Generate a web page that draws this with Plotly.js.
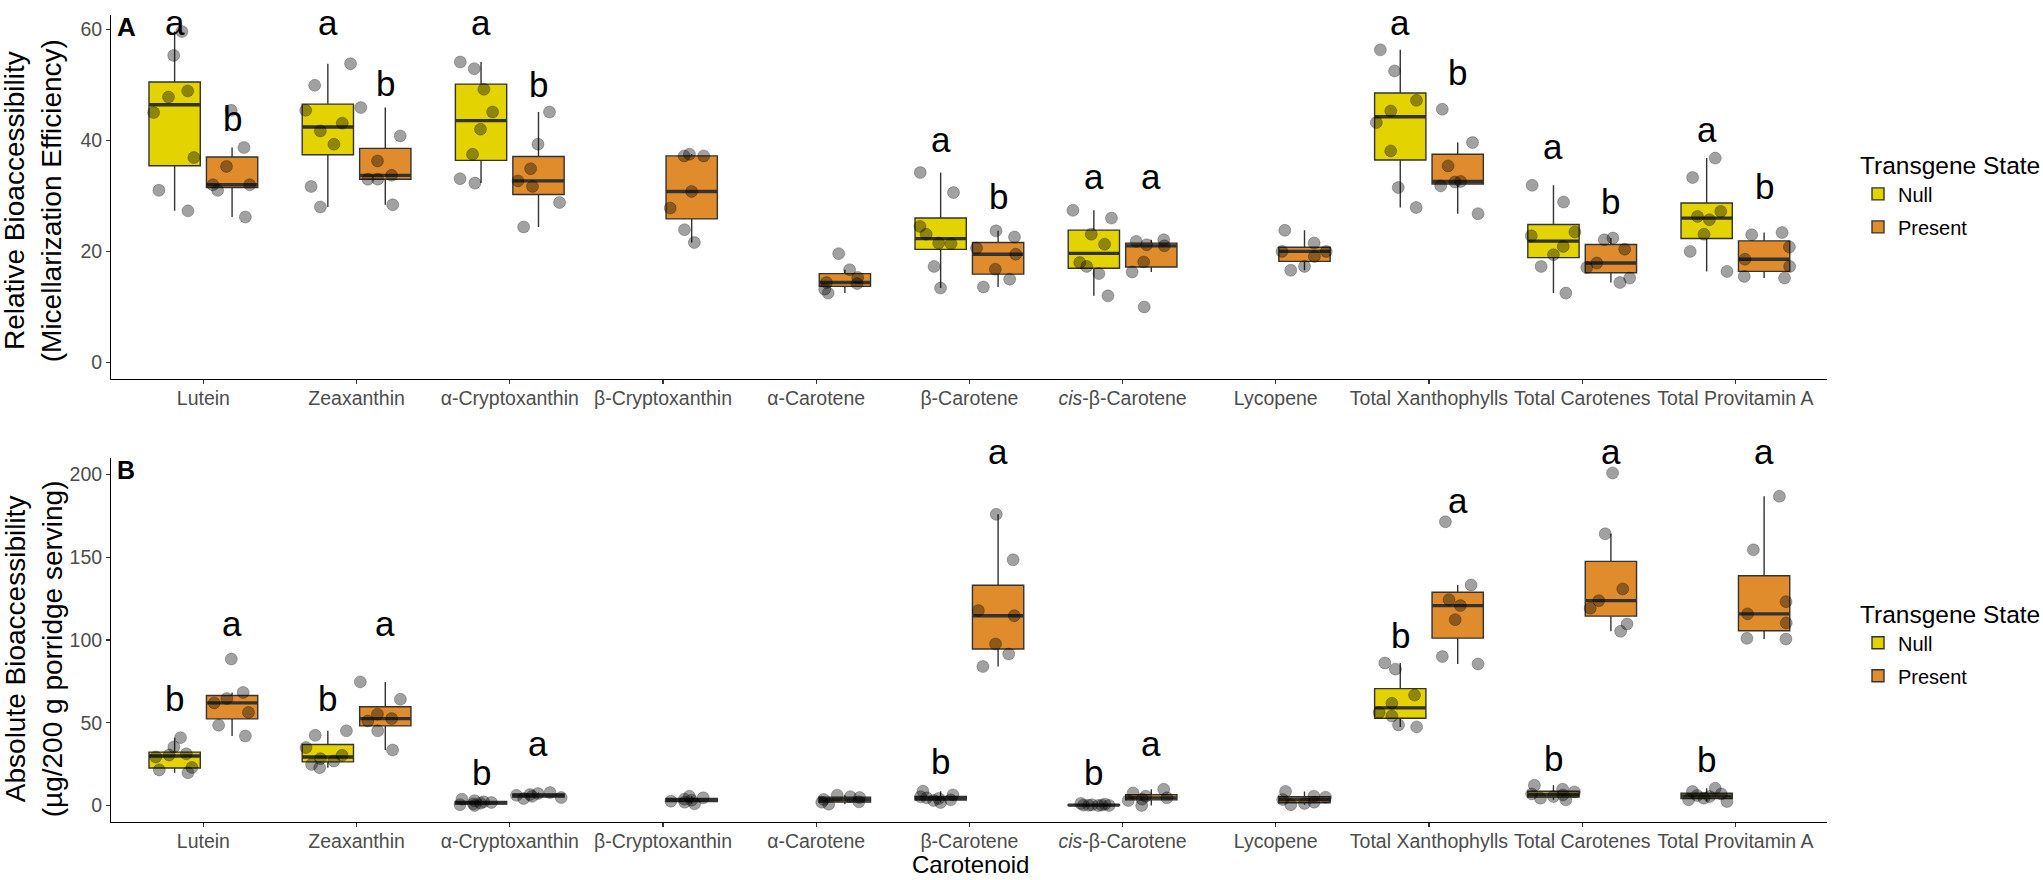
<!DOCTYPE html>
<html><head><meta charset="utf-8">
<script src="https://cdn.plot.ly/plotly-3.0.1.min.js"></script>
<style>html,body{margin:0;padding:0;background:#fff;} #chart{width:2043px;height:880px;}</style>
</head><body><div id="chart"></div>
<script>
const categories = ['Lutein','Zeaxanthin','α-Cryptoxanthin','β-Cryptoxanthin','α-Carotene','β-Carotene','cis-β-Carotene','Lycopene','Total Xanthophylls','Total Carotenes','Total Provitamin A'];
const tickLabels = ['Lutein','Zeaxanthin','α-Cryptoxanthin','β-Cryptoxanthin','α-Carotene','β-Carotene','<i>cis</i>-β-Carotene','Lycopene','Total Xanthophylls','Total Carotenes','Total Provitamin A'];
const groups = ['Null','Present'];

// Panel A: relative bioaccessibility (%), one array of replicate values per carotenoid
const relNull = [
  [27.3,31.0,36.9,45.0,47.8,48.9,55.3,59.6],
  [28.0,31.7,39.3,41.7,43.1,45.4,49.9,53.8],
  [32.3,33.1,37.5,42.0,45.1,49.2,52.9,54.1],
  null,
  null,
  [13.4,17.3,21.4,21.5,23.1,24.5,30.6,34.2],
  [12.0,16.0,17.3,18.0,21.3,23.1,26.0,27.4],
  null,
  [27.9,31.5,38.1,43.2,45.3,47.2,52.5,56.3],
  [12.5,17.3,19.4,20.9,22.8,23.5,28.9,31.9],
  [16.4,20.0,23.1,25.7,26.3,27.2,33.3,36.8]
];
const relPresent = [
  [26.2,31.0,32.0,32.0,35.3,38.7,45.4],
  [28.4,33.0,33.0,33.7,36.3,40.8,45.9],
  [24.4,28.8,31.7,32.7,34.9,39.3,45.1],
  [21.6,23.9,27.8,30.8,37.2,37.2,37.5],
  [12.5,13.2,14.2,14.4,15.3,16.7,19.6],
  [13.6,15.0,16.8,19.5,20.6,22.6,23.7],
  [10.0,16.3,18.1,21.0,21.2,21.8,22.1],
  [16.6,17.3,19.1,20.0,20.0,21.5,23.8],
  [26.8,31.8,32.5,32.6,35.4,39.6,45.6],
  [14.4,15.2,17.1,17.9,20.4,22.1,22.4],
  [15.2,15.5,17.3,18.6,20.8,23.0,23.4]
];
// Panel B: absolute bioaccessibility (µg / 200 g porridge serving)
const absNull = [
  [19.8,21.5,23.0,29.3,30.5,31.2,35.4,41.0],
  [22.8,24.8,26.9,28.3,30.3,35.0,42.4,45.1],
  [0.0,0.5,1.0,1.4,1.8,2.2,2.9,3.8],
  null,
  null,
  [1.8,3.0,3.4,4.2,4.6,5.2,6.4,8.6],
  [0.0,0.0,0.1,0.2,0.2,0.4,0.8,1.2],
  null,
  [47.5,48.7,54.1,56.2,61.8,66.7,82.4,86.1],
  [3.4,4.4,5.4,6.4,7.0,8.2,9.8,12.2],
  [2.4,3.4,4.4,5.4,6.0,7.0,8.4,10.4]
];
const absPresent = [
  [42.0,48.5,56.2,62.0,64.6,68.3,88.5],
  [33.5,45.1,51.1,52.5,55.2,64.2,74.7],
  [4.2,4.8,5.5,6.1,6.6,7.2,7.8],
  [1.0,2.0,2.6,3.2,3.8,4.6,5.6],
  [0.8,2.0,2.2,3.6,4.8,5.3,6.2],
  [84.0,91.5,97.6,114.7,117.8,148.5,176.0],
  [0.0,3.0,3.8,4.6,5.6,7.5,9.8],
  [0.5,1.2,2.0,3.6,5.0,5.6,8.5],
  [85.5,90.0,112.3,120.8,124.4,133.3,171.5],
  [105.3,109.7,119.2,123.8,130.9,164.2,201.0],
  [100.6,101.0,110.3,115.8,123.2,154.5,186.9]
];
// significance letters and their heights (data units)
const relLetterNull    = ['a','a','a',null,null,'a','a',null,'a','a','a'];
const relLetterNullY   = [62.8,62.8,62.8,null,null,40.1,33.5,null,62.8,38.9,41.9];
const relLetterPres    = ['b','b','b',null,null,'b','a',null,'b','b','b'];
const relLetterPresY   = [44.0,50.2,50.0,null,null,29.9,33.5,null,52.3,29.0,31.7];
const absLetterNull    = ['b','b','b',null,null,'b','b',null,'b','b','b'];
const absLetterNullY   = [64.6,64.6,19.8,null,null,26.3,19.8,null,103.0,28.3,27.9];
const absLetterPres    = ['a','a','a',null,null,'a','a',null,'a','a','a'];
const absLetterPresY   = [109.7,109.7,37.4,null,null,213.7,37.4,null,184.4,213.7,213.7];

const FONT = 'Liberation Sans, Arial, Helvetica, sans-serif';
const fills = {Null:'#E3D300', Present:'#E08C2C'};
const DODGE = 0.1875;
const H = 880;
const domA = [0.5693, 0.983], rangeA = [-2.98, 62.58];
const domB = [0.0659, 0.4795], rangeB = [-10, 210];
const LETTER_SIZE = 35;

function q7(s, p){ const h=(s.length-1)*p, lo=Math.floor(h), hi=Math.ceil(h); return s[lo]+(h-lo)*(s[hi]-s[lo]); }
function stats(arr){
  const s = arr.slice().sort((a,b)=>a-b);
  const q1=q7(s,0.25), med=q7(s,0.5), q3=q7(s,0.75), iqr=q3-q1;
  const lf = Math.min(...s.filter(v=>v>=q1-1.5*iqr));
  const uf = Math.max(...s.filter(v=>v<=q3+1.5*iqr));
  return {q1,med,q3,lf,uf};
}

function panel(nullPts, presPts, xa, ya, legendName, ag){
  const boxes=[], meds=[], pts=[];
  [['Null',nullPts],['Present',presPts]].forEach(([g,data])=>{
    const cats=[], q1=[], md=[], q3=[], lf=[], uf=[], px=[], py=[];
    data.forEach((d,i)=>{
      if(!d) return;
      const st=stats(d);
      cats.push(categories[i]); q1.push(st.q1); md.push(st.med); q3.push(st.q3); lf.push(st.lf); uf.push(st.uf);
      d.forEach(v=>{px.push(categories[i]); py.push(v);});
    });
    const common = {type:'box', xaxis:xa, yaxis:ya, offsetgroup:g, alignmentgroup:ag, legend:legendName, whiskerwidth:0, hoverinfo:'skip'};
    boxes.push(Object.assign({}, common, {name:g, x:cats, q1:q1, median:md, q3:q3, lowerfence:lf, upperfence:uf,
      boxpoints:false, fillcolor:fills[g], line:{color:'#333333', width:1.4}, showlegend:true, legendgroup:g}));
    meds.push(Object.assign({}, common, {name:g, x:cats, q1:md, median:md, q3:md, lowerfence:md, upperfence:md,
      boxpoints:false, fillcolor:'rgba(0,0,0,0)', line:{color:'#333333', width:3.4}, showlegend:false}));
    pts.push(Object.assign({}, common, {name:g, x:px, y:py, boxpoints:'all', jitter:1, pointpos:0,
      fillcolor:'rgba(0,0,0,0)', line:{color:'rgba(0,0,0,0)', width:0},
      marker:{size:12, color:'rgba(0,0,0,0.37)', line:{color:'rgba(0,0,0,0.25)', width:1}}, showlegend:false}));
  });
  return boxes.concat(meds, pts);
}

const traces = panel(relNull, relPresent, 'x', 'y', 'legend', 'A')
  .concat(panel(absNull, absPresent, 'x2', 'y2', 'legend2', 'B'));

function toPaper(v, dom, rng){ return dom[0] + (v - rng[0]) / (rng[1] - rng[0]) * (dom[1] - dom[0]); }

const annotations = [];
const maxCenter = 1 - (LETTER_SIZE * 0.6 + 1) / H;   // keep the letter box inside the picture
function letters(lab, ly, off, xr, dom, rng){
  lab.forEach((t,i)=>{ if(!t) return;
    annotations.push({xref:xr, yref:'paper', x:i+off, y:Math.min(maxCenter, toPaper(ly[i], dom, rng)), text:t, showarrow:false,
      xanchor:'center', yanchor:'middle', font:{family:FONT, size:LETTER_SIZE, color:'#000'}});
  });
}
letters(relLetterNull, relLetterNullY, -DODGE, 'x', domA, rangeA);
letters(relLetterPres, relLetterPresY, DODGE, 'x', domA, rangeA);
letters(absLetterNull, absLetterNullY, -DODGE, 'x2', domB, rangeB);
letters(absLetterPres, absLetterPresY, DODGE, 'x2', domB, rangeB);

annotations.push(
  {xref:'paper', yref:'paper', x:0.0163, y:0.7716, textangle:-90, showarrow:false, xanchor:'center', yanchor:'middle',
   text:'Relative Bioaccessibility<br>(Micellarization Efficiency)', font:{family:FONT, size:28, color:'#000'}},
  {xref:'paper', yref:'paper', x:0.0163, y:0.2625, textangle:-90, showarrow:false, xanchor:'center', yanchor:'middle',
   text:'Absolute Bioaccessibility<br>(µg/200 g porridge serving)', font:{family:FONT, size:28, color:'#000'}},
  {xref:'paper', yref:'paper', x:0.4753, y:0.0, showarrow:false, xanchor:'center', yanchor:'bottom',
   text:'Carotenoid', font:{family:FONT, size:24, color:'#000'}},
  {xref:'paper', yref:'paper', x:0.0563, y:0.9688, showarrow:false, xanchor:'left', yanchor:'middle',
   text:'<b>A</b>', font:{family:FONT, size:26, color:'#000'}},
  {xref:'paper', yref:'paper', x:0.0563, y:0.4659, showarrow:false, xanchor:'left', yanchor:'middle',
   text:'<b>B</b>', font:{family:FONT, size:25, color:'#000'}}
);

const xDomain = [0.0546, 0.8953];
function xAxis(anchor){
  return {domain:xDomain, anchor:anchor, type:'category', categoryorder:'array', categoryarray:categories,
    tickvals:categories, ticktext:tickLabels, range:[-0.6, 10.6], showgrid:false, zeroline:false,
    showline:true, linecolor:'#000', linewidth:1.4, ticks:'outside', ticklen:4, tickwidth:1.3, tickcolor:'#333',
    ticklabelstandoff:-3,
    tickfont:{family:FONT, size:19.5, color:'#4D4D4D'}, automargin:false, fixedrange:true};
}
function yAxis(anchor, domain, range, dtick){
  return {domain:domain, anchor:anchor, range:range, dtick:dtick, tick0:0, showgrid:false, zeroline:false,
    showline:true, linecolor:'#000', linewidth:1.4, ticks:'outside', ticklen:4, tickwidth:1.3, tickcolor:'#333',
    tickfont:{family:FONT, size:19.5, color:'#4D4D4D'}, automargin:false, fixedrange:true};
}
const legendBase = (y)=>({x:0.9105, xanchor:'left', y:y, yanchor:'top', bgcolor:'rgba(0,0,0,0)',
  title:{text:'Transgene State', font:{family:FONT, size:24.5, color:'#000'}},
  font:{family:FONT, size:20, color:'#000'}, tracegroupgap:4});

const layout = {
  width:2043, height:880, margin:{l:0, r:0, t:0, b:0}, paper_bgcolor:'#fff', plot_bgcolor:'#fff',
  font:{family:FONT}, boxmode:'group', boxgap:0.25, boxgroupgap:0.107,
  xaxis: xAxis('y'), yaxis: yAxis('x', domA, rangeA, 20),
  xaxis2: xAxis('y2'), yaxis2: yAxis('x2', domB, rangeB, 50),
  legend: legendBase(0.838), legend2: legendBase(0.328),
  annotations: annotations, showlegend:true
};
Plotly.newPlot('chart', traces, layout, {staticPlot:true, displayModeBar:false});
</script></body></html>
